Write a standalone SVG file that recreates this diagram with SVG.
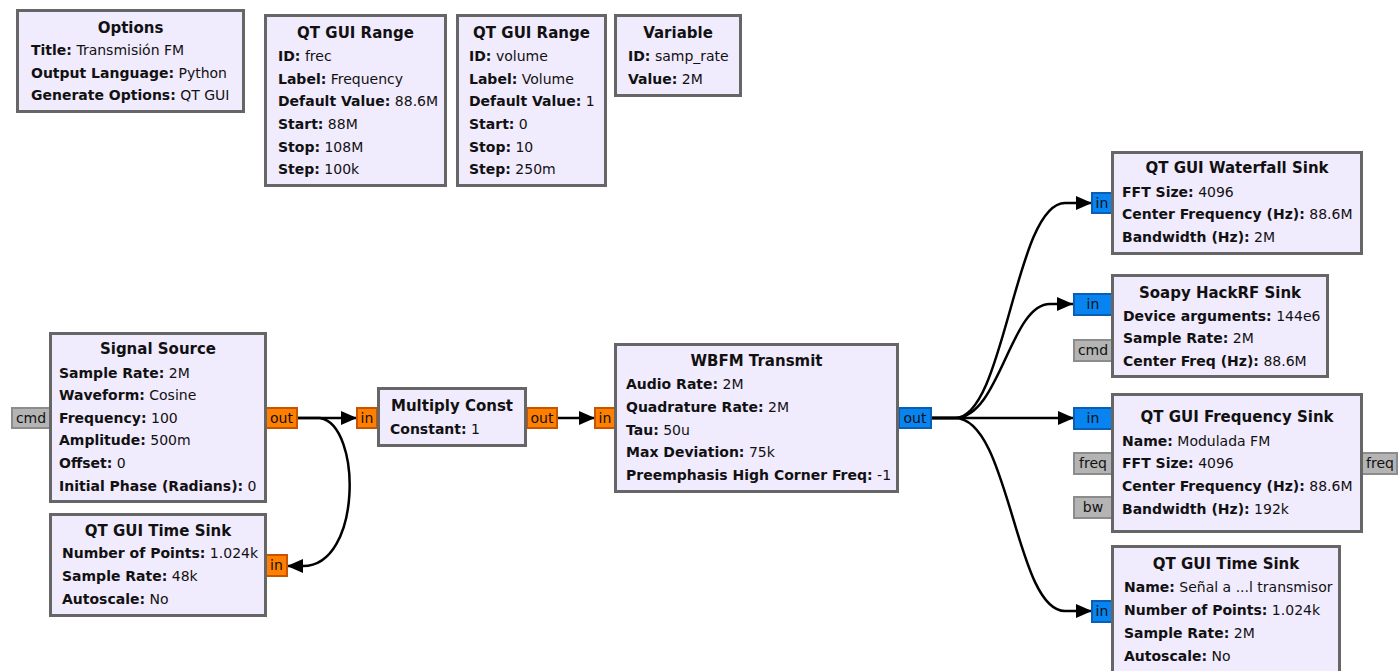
<svg xmlns="http://www.w3.org/2000/svg" width="1398" height="671" viewBox="0 0 1398 671">
  <style>
    .blk { fill: #f1ebfe; stroke: #666666; stroke-width: 3; }
    .ttl { font-family: "DejaVu Sans", sans-serif; font-size: 15px; font-weight: bold; fill: #111; text-anchor: middle; }
    .row { font-family: "DejaVu Sans", sans-serif; font-size: 14px; fill: #111; }
    .row .k { font-weight: bold; }
    .po { fill: #ff7f00; stroke: #c95400; stroke-width: 2; }
    .pb { fill: #0884f0; stroke: #0a5fb4; stroke-width: 2; }
    .pg { fill: #b4b4b4; stroke: #8c8c8c; stroke-width: 2; }
    .pl { font-family: "DejaVu Sans", sans-serif; font-size: 14px; fill: #111; text-anchor: middle; }
    .wire { fill: none; stroke: #000; stroke-width: 2.5; }
  </style>
  <defs>
    <marker id="arrow" viewBox="0 0 16 14" refX="16" refY="7" markerWidth="16" markerHeight="14" markerUnits="userSpaceOnUse" orient="auto">
      <path d="M0,0 L16,7 L0,14 z" fill="#000"/>
    </marker>
  </defs>

  <rect width="1398" height="671" fill="#ffffff"/>

  <!-- connections -->
  <g id="connectors">
    <path class="wire" d="M297,418 H357" marker-end="url(#arrow)"/>
    <path class="wire" d="M297,418 H320 C362,425 362,566 303,566 H287" marker-end="url(#arrow)"/>
    <path class="wire" d="M557,418 H595" marker-end="url(#arrow)"/>
    <path class="wire" d="M931,418 H955 C1005,418 1015,203 1065,203 H1092" marker-end="url(#arrow)"/>
    <path class="wire" d="M931,418 H955 C1000,418 1010,304 1050,304 H1073" marker-end="url(#arrow)"/>
    <path class="wire" d="M931,418 H1074" marker-end="url(#arrow)"/>
    <path class="wire" d="M931,418 H955 C1010,418 1015,611 1065,611 H1092" marker-end="url(#arrow)"/>
  </g>

  <!-- Options -->
  <g id="options">
    <rect class="blk" x="17.5" y="10.5" width="226" height="101"/>
    <text class="ttl" x="130.5" y="33">Options</text>
    <text class="row" x="31" y="55"><tspan class="k">Title:</tspan> Transmisión FM</text>
    <text class="row" x="31" y="78"><tspan class="k">Output Language:</tspan> Python</text>
    <text class="row" x="31" y="100"><tspan class="k">Generate Options:</tspan> QT GUI</text>
  </g>

  <!-- QT GUI Range: frec -->
  <g id="range_frec">
    <rect class="blk" x="265.5" y="15.5" width="180" height="170"/>
    <text class="ttl" x="355.5" y="38">QT GUI Range</text>
    <text class="row" x="278" y="61"><tspan class="k">ID:</tspan> frec</text>
    <text class="row" x="278" y="84"><tspan class="k">Label:</tspan> Frequency</text>
    <text class="row" x="278" y="106"><tspan class="k">Default Value:</tspan> 88.6M</text>
    <text class="row" x="278" y="129"><tspan class="k">Start:</tspan> 88M</text>
    <text class="row" x="278" y="152"><tspan class="k">Stop:</tspan> 108M</text>
    <text class="row" x="278" y="174"><tspan class="k">Step:</tspan> 100k</text>
  </g>

  <!-- QT GUI Range: volume -->
  <g id="range_volume">
    <rect class="blk" x="457.5" y="15.5" width="148" height="170"/>
    <text class="ttl" x="531.5" y="38">QT GUI Range</text>
    <text class="row" x="469" y="61"><tspan class="k">ID:</tspan> volume</text>
    <text class="row" x="469" y="84"><tspan class="k">Label:</tspan> Volume</text>
    <text class="row" x="469" y="106"><tspan class="k">Default Value:</tspan> 1</text>
    <text class="row" x="469" y="129"><tspan class="k">Start:</tspan> 0</text>
    <text class="row" x="469" y="152"><tspan class="k">Stop:</tspan> 10</text>
    <text class="row" x="469" y="174"><tspan class="k">Step:</tspan> 250m</text>
  </g>

  <!-- Variable -->
  <g id="variable_samp_rate">
    <rect class="blk" x="615.5" y="15.5" width="125" height="80"/>
    <text class="ttl" x="678" y="38">Variable</text>
    <text class="row" x="628" y="61"><tspan class="k">ID:</tspan> samp_rate</text>
    <text class="row" x="628" y="84"><tspan class="k">Value:</tspan> 2M</text>
  </g>

  <!-- Signal Source -->
  <g id="signal_source">
    <rect class="pg" x="12" y="408" width="38" height="20"/>
    <text class="pl" x="31" y="423">cmd</text>
    <rect class="po" x="266" y="408" width="31" height="20"/>
    <text class="pl" x="281.5" y="423">out</text>
    <rect class="blk" x="50.5" y="333.5" width="215" height="168"/>
    <text class="ttl" x="158" y="354">Signal Source</text>
    <text class="row" x="59" y="378"><tspan class="k">Sample Rate:</tspan> 2M</text>
    <text class="row" x="59" y="400"><tspan class="k">Waveform:</tspan> Cosine</text>
    <text class="row" x="59" y="423"><tspan class="k">Frequency:</tspan> 100</text>
    <text class="row" x="59" y="445"><tspan class="k">Amplitude:</tspan> 500m</text>
    <text class="row" x="59" y="468"><tspan class="k">Offset:</tspan> 0</text>
    <text class="row" x="59" y="491"><tspan class="k">Initial Phase (Radians):</tspan> 0</text>
  </g>

  <!-- QT GUI Time Sink (audio) -->
  <g id="time_sink_audio">
    <rect class="po" x="266" y="555" width="21" height="21"/>
    <text class="pl" x="276.5" y="570">in</text>
    <rect class="blk" x="50.5" y="514.5" width="215" height="101"/>
    <text class="ttl" x="158" y="536">QT GUI Time Sink</text>
    <text class="row" x="62" y="558"><tspan class="k">Number of Points:</tspan> 1.024k</text>
    <text class="row" x="62" y="581"><tspan class="k">Sample Rate:</tspan> 48k</text>
    <text class="row" x="62" y="604"><tspan class="k">Autoscale:</tspan> No</text>
  </g>

  <!-- Multiply Const -->
  <g id="multiply_const">
    <rect class="po" x="357" y="408" width="20" height="20"/>
    <text class="pl" x="367" y="423">in</text>
    <rect class="po" x="527" y="408" width="30" height="20"/>
    <text class="pl" x="542" y="423">out</text>
    <rect class="blk" x="378.5" y="388.5" width="147" height="57"/>
    <text class="ttl" x="452" y="411">Multiply Const</text>
    <text class="row" x="390" y="434"><tspan class="k">Constant:</tspan> 1</text>
  </g>

  <!-- WBFM Transmit -->
  <g id="wbfm_transmit">
    <rect class="po" x="595" y="408" width="20" height="20"/>
    <text class="pl" x="605" y="423">in</text>
    <rect class="pb" x="899" y="408" width="32" height="20"/>
    <text class="pl" x="915" y="423">out</text>
    <rect class="blk" x="615.5" y="344.5" width="282" height="147"/>
    <text class="ttl" x="756.5" y="366">WBFM Transmit</text>
    <text class="row" x="626" y="389"><tspan class="k">Audio Rate:</tspan> 2M</text>
    <text class="row" x="626" y="412"><tspan class="k">Quadrature Rate:</tspan> 2M</text>
    <text class="row" x="626" y="435"><tspan class="k">Tau:</tspan> 50u</text>
    <text class="row" x="626" y="457"><tspan class="k">Max Deviation:</tspan> 75k</text>
    <text class="row" x="626" y="480"><tspan class="k">Preemphasis High Corner Freq:</tspan> -1</text>
  </g>

  <!-- QT GUI Waterfall Sink -->
  <g id="waterfall_sink">
    <rect class="pb" x="1092" y="193" width="20" height="20"/>
    <text class="pl" x="1102" y="208">in</text>
    <rect class="blk" x="1112.5" y="152.5" width="249" height="101"/>
    <text class="ttl" x="1237" y="173">QT GUI Waterfall Sink</text>
    <text class="row" x="1122" y="197"><tspan class="k">FFT Size:</tspan> 4096</text>
    <text class="row" x="1122" y="219"><tspan class="k">Center Frequency (Hz):</tspan> 88.6M</text>
    <text class="row" x="1122" y="242"><tspan class="k">Bandwidth (Hz):</tspan> 2M</text>
  </g>

  <!-- Soapy HackRF Sink -->
  <g id="soapy_hackrf_sink">
    <rect class="pb" x="1074" y="294" width="38" height="21"/>
    <text class="pl" x="1093" y="309">in</text>
    <rect class="pg" x="1074" y="340" width="38" height="21"/>
    <text class="pl" x="1093" y="355">cmd</text>
    <rect class="blk" x="1112.5" y="275.5" width="215" height="101"/>
    <text class="ttl" x="1220" y="298">Soapy HackRF Sink</text>
    <text class="row" x="1123" y="321"><tspan class="k">Device arguments:</tspan> 144e6</text>
    <text class="row" x="1123" y="343"><tspan class="k">Sample Rate:</tspan> 2M</text>
    <text class="row" x="1123" y="366"><tspan class="k">Center Freq (Hz):</tspan> 88.6M</text>
  </g>

  <!-- QT GUI Frequency Sink -->
  <g id="frequency_sink">
    <rect class="pb" x="1074" y="408" width="38" height="21"/>
    <text class="pl" x="1093" y="423">in</text>
    <rect class="pg" x="1074" y="453" width="38" height="21"/>
    <text class="pl" x="1093" y="468">freq</text>
    <rect class="pg" x="1074" y="497" width="38" height="21"/>
    <text class="pl" x="1093" y="512">bw</text>
    <rect class="pg" x="1362" y="453" width="35" height="21"/>
    <text class="pl" x="1380" y="468">freq</text>
    <rect class="blk" x="1112.5" y="394.5" width="249" height="137"/>
    <text class="ttl" x="1237" y="422">QT GUI Frequency Sink</text>
    <text class="row" x="1122" y="446"><tspan class="k">Name:</tspan> Modulada FM</text>
    <text class="row" x="1122" y="468"><tspan class="k">FFT Size:</tspan> 4096</text>
    <text class="row" x="1122" y="491"><tspan class="k">Center Frequency (Hz):</tspan> 88.6M</text>
    <text class="row" x="1122" y="514"><tspan class="k">Bandwidth (Hz):</tspan> 192k</text>
  </g>

  <!-- QT GUI Time Sink (modulated) -->
  <g id="time_sink_tx">
    <rect class="pb" x="1092" y="601" width="20" height="21"/>
    <text class="pl" x="1102" y="616">in</text>
    <rect class="blk" x="1112.5" y="546.5" width="227" height="140"/>
    <text class="ttl" x="1226" y="569">QT GUI Time Sink</text>
    <text class="row" x="1124" y="592"><tspan class="k">Name:</tspan> Señal a ...l transmisor</text>
    <text class="row" x="1124" y="615"><tspan class="k">Number of Points:</tspan> 1.024k</text>
    <text class="row" x="1124" y="638"><tspan class="k">Sample Rate:</tspan> 2M</text>
    <text class="row" x="1124" y="661"><tspan class="k">Autoscale:</tspan> No</text>
  </g>
</svg>
